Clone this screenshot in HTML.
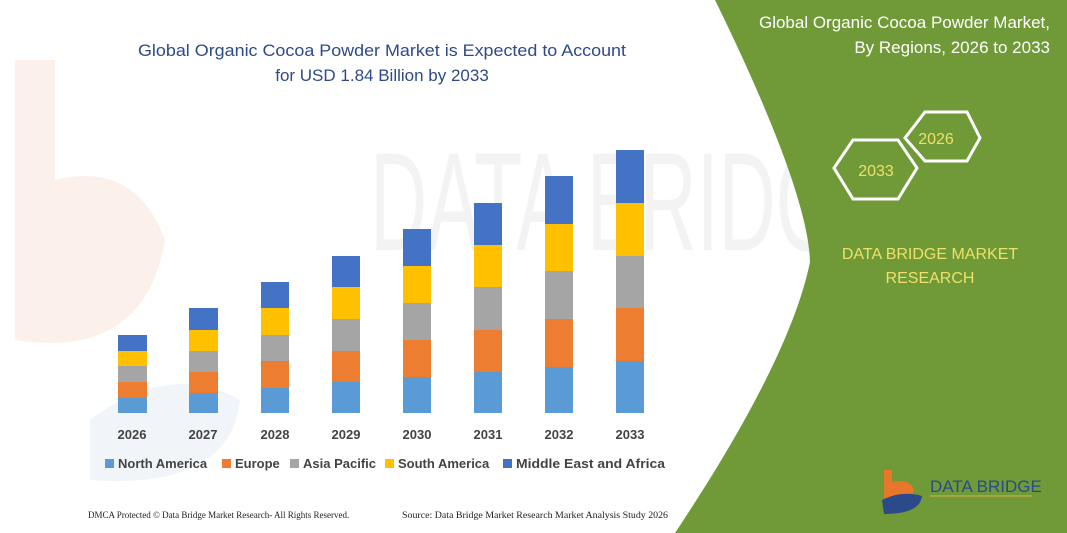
<!DOCTYPE html>
<html><head><style>
body{margin:0;width:1067px;height:533px;overflow:hidden;background:#fff;font-family:"Liberation Sans",sans-serif;}
</style></head><body>
<svg width="1067" height="533" xmlns="http://www.w3.org/2000/svg" style="position:absolute;left:0;top:0">
<path d="M15,60 h40 v120 q80,-20 110,60 q-20,120 -150,100 z" fill="#fbf0ea"/>
<path d="M90,420 q80,-60 150,-20 q-10,90 -150,80 z" fill="#f1f4f8"/>
<text x="370" y="250" font-size="140" fill="#f3f3f3" font-family="Liberation Sans" textLength="520" lengthAdjust="spacingAndGlyphs">DATA BRIDGE</text>
<path d="M715,0 L1067,0 L1067,533 L675,533 Q790,360 810,262 Q808,190 715,0 Z" fill="#6f9a37"/>
<g font-family="Liberation Sans" font-size="17" fill="#2e4a8a" text-anchor="middle">
<text x="382" y="56" textLength="488" lengthAdjust="spacingAndGlyphs">Global Organic Cocoa Powder Market is Expected to Account</text>
<text x="382" y="81">for USD 1.84 Billion by 2033</text>
</g>
<g font-family="Liberation Sans" font-size="17" fill="#fff" text-anchor="end">
<text x="1050" y="28">Global Organic Cocoa Powder Market,</text>
<text x="1050" y="53">By Regions, 2026 to 2033</text>
</g>
<polygon points="925,112 967,112 980,138 967,161 925,161 905,138" fill="none" stroke="#fff" stroke-width="3"/>
<polygon points="853,140 898,140 917,168 898,199 853,199 834,168" fill="none" stroke="#fff" stroke-width="3"/>
<g font-family="Liberation Sans" font-size="16" fill="#f0e06a" text-anchor="middle">
<text x="936" y="144">2026</text>
<text x="876" y="176">2033</text>
<text x="930" y="259">DATA BRIDGE MARKET</text>
<text x="930" y="283">RESEARCH</text>
</g>
<g>
<rect x="118" y="398" width="29" height="15" fill="#5b9bd5"/><rect x="118" y="382" width="29" height="16" fill="#ed7d31"/><rect x="118" y="366" width="29" height="16" fill="#a5a5a5"/><rect x="118" y="351" width="29" height="15" fill="#ffc000"/><rect x="118" y="335" width="29" height="16" fill="#4472c4"/>
<rect x="189" y="393" width="29" height="20" fill="#5b9bd5"/><rect x="189" y="372" width="29" height="21" fill="#ed7d31"/><rect x="189" y="351" width="29" height="21" fill="#a5a5a5"/><rect x="189" y="330" width="29" height="21" fill="#ffc000"/><rect x="189" y="308" width="29" height="22" fill="#4472c4"/>
<rect x="261" y="388" width="28" height="25" fill="#5b9bd5"/><rect x="261" y="361" width="28" height="27" fill="#ed7d31"/><rect x="261" y="335" width="28" height="26" fill="#a5a5a5"/><rect x="261" y="308" width="28" height="27" fill="#ffc000"/><rect x="261" y="282" width="28" height="26" fill="#4472c4"/>
<rect x="332" y="382" width="28" height="31" fill="#5b9bd5"/><rect x="332" y="351" width="28" height="31" fill="#ed7d31"/><rect x="332" y="319" width="28" height="32" fill="#a5a5a5"/><rect x="332" y="287" width="28" height="32" fill="#ffc000"/><rect x="332" y="256" width="28" height="31" fill="#4472c4"/>
<rect x="403" y="377" width="28" height="36" fill="#5b9bd5"/><rect x="403" y="340" width="28" height="37" fill="#ed7d31"/><rect x="403" y="303" width="28" height="37" fill="#a5a5a5"/><rect x="403" y="266" width="28" height="37" fill="#ffc000"/><rect x="403" y="229" width="28" height="37" fill="#4472c4"/>
<rect x="474" y="372" width="28" height="41" fill="#5b9bd5"/><rect x="474" y="330" width="28" height="42" fill="#ed7d31"/><rect x="474" y="287" width="28" height="43" fill="#a5a5a5"/><rect x="474" y="245" width="28" height="42" fill="#ffc000"/><rect x="474" y="203" width="28" height="42" fill="#4472c4"/>
<rect x="545" y="367" width="28" height="46" fill="#5b9bd5"/><rect x="545" y="319" width="28" height="48" fill="#ed7d31"/><rect x="545" y="271" width="28" height="48" fill="#a5a5a5"/><rect x="545" y="224" width="28" height="47" fill="#ffc000"/><rect x="545" y="176" width="28" height="48" fill="#4472c4"/>
<rect x="616" y="361" width="28" height="52" fill="#5b9bd5"/><rect x="616" y="308" width="28" height="53" fill="#ed7d31"/><rect x="616" y="256" width="28" height="52" fill="#a5a5a5"/><rect x="616" y="203" width="28" height="53" fill="#ffc000"/><rect x="616" y="150" width="28" height="53" fill="#4472c4"/>
</g>
<g font-family="Liberation Sans" font-size="13" font-weight="bold" fill="#444" text-anchor="middle">
<text x="132" y="439">2026</text><text x="203" y="439">2027</text><text x="275" y="439">2028</text><text x="346" y="439">2029</text><text x="417" y="439">2030</text><text x="488" y="439">2031</text><text x="559" y="439">2032</text><text x="630" y="439">2033</text>
</g>
<g font-family="Liberation Sans" font-size="13" font-weight="bold" fill="#444">
<rect x="105" y="459" width="9" height="9" fill="#5b9bd5"/><text x="118" y="468">North America</text>
<rect x="222" y="459" width="9" height="9" fill="#ed7d31"/><text x="235" y="468">Europe</text>
<rect x="290" y="459" width="9" height="9" fill="#a5a5a5"/><text x="303" y="468">Asia Pacific</text>
<rect x="385" y="459" width="9" height="9" fill="#ffc000"/><text x="398" y="468">South America</text>
<rect x="503" y="459" width="9" height="9" fill="#4472c4"/><text x="516" y="468" textLength="149" lengthAdjust="spacingAndGlyphs">Middle East and Africa</text>
</g>
<g font-family="Liberation Serif" font-size="9" fill="#222">
<text x="88" y="518">DMCA Protected © Data Bridge Market Research- All Rights Reserved.</text>
<text x="402" y="518" textLength="266" lengthAdjust="spacingAndGlyphs">Source: Data Bridge Market Research Market Analysis Study 2026</text>
</g>
<path d="M884,470 h8 v12 q18,-4 22,8 q-4,14 -30,12 z" fill="#e8762b"/>
<path d="M882,500 q20,-10 40,-4 q-2,18 -38,18 z" fill="#2a4a8c"/>
<text x="930" y="492" font-family="Liberation Sans" font-size="17" fill="#2a4a8c">DATA BRIDGE</text>
<line x1="930" y1="496" x2="1032" y2="496" stroke="#d9b24a"/>
</svg>
</body></html>
